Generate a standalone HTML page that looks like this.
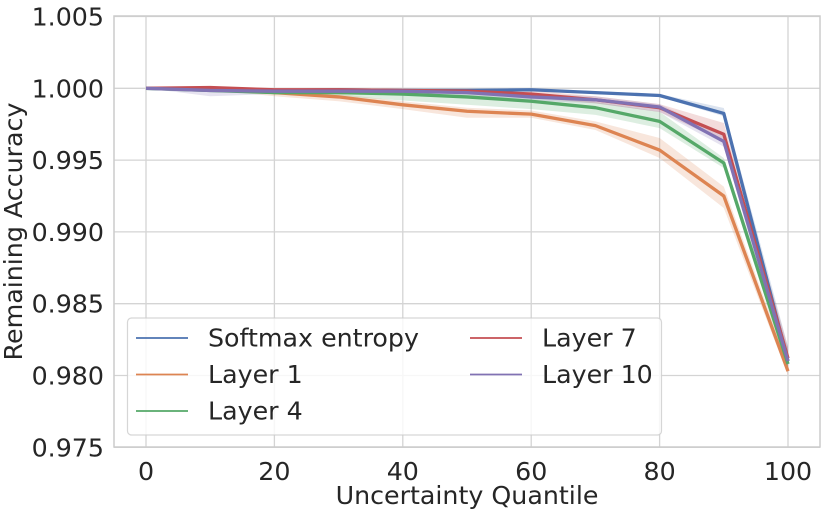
<!DOCTYPE html>
<html lang="en">
<head>
<meta charset="utf-8">
<title>Remaining Accuracy vs Uncertainty Quantile</title>
<style>
html,body{margin:0;padding:0;background:#fff;width:831px;height:509px;overflow:hidden}
svg{display:block;filter:blur(0.35px)}
text{font-family:"DejaVu Sans","Liberation Sans",sans-serif;fill:#262626}
</style>
</head>
<body>
<svg id="chart" xmlns="http://www.w3.org/2000/svg" width="831" height="509" viewBox="0 0 831 509"></svg>
<script>
const quantiles = [0, 10, 20, 30, 40, 50, 60, 70, 80, 90, 100];
const xTickValues = [0, 20, 40, 60, 80, 100];
const yTickValues = [0.975, 0.980, 0.985, 0.990, 0.995, 1.000, 1.005];

const softmaxMean = [1.0000, 0.99995, 0.99985, 0.99990, 0.99985, 0.99985, 0.99990, 0.99970, 0.99950, 0.99825, 0.9810];
const softmaxLow  = [1.0000, 0.99990, 0.99980, 0.99985, 0.99980, 0.99980, 0.99985, 0.99960, 0.99940, 0.99805, 0.9803];
const softmaxHigh = [1.0000, 1.00000, 0.99990, 0.99995, 0.99990, 0.99990, 0.99995, 0.99980, 0.99960, 0.99863, 0.9820];

const layer1Mean = [1.0000, 1.00000, 0.99970, 0.99940, 0.99885, 0.99840, 0.99820, 0.99740, 0.99570, 0.99250, 0.9803];
const layer1Low  = [1.0000, 0.99990, 0.99945, 0.99910, 0.99855, 0.99795, 0.99795, 0.99710, 0.99515, 0.99166, 0.9800];
const layer1High = [1.0000, 1.00005, 0.99985, 0.99960, 0.99910, 0.99865, 0.99845, 0.99770, 0.99654, 0.99315, 0.9808];

const layer4Mean = [1.0000, 0.99985, 0.99970, 0.99970, 0.99960, 0.99940, 0.99910, 0.99865, 0.99770, 0.99480, 0.9808];
const layer4Low  = [1.0000, 0.99975, 0.99960, 0.99945, 0.99915, 0.99885, 0.99855, 0.99815, 0.99723, 0.99445, 0.9803];
const layer4High = [1.0000, 0.99995, 0.99980, 0.99985, 0.99985, 0.99975, 0.99950, 0.99905, 0.99837, 0.99515, 0.9814];

const layer7Mean = [1.0000, 1.00005, 0.99990, 0.99990, 0.99985, 0.99980, 0.99960, 0.99920, 0.99865, 0.99680, 0.9812];
const layer7Low  = [1.0000, 0.99995, 0.99985, 0.99985, 0.99975, 0.99965, 0.99935, 0.99895, 0.99835, 0.99630, 0.9805];
const layer7High = [1.0000, 1.00010, 0.99995, 0.99995, 0.99995, 0.99990, 0.99985, 0.99945, 0.99890, 0.99758, 0.9820];

const layer10Mean = [1.0000, 0.99985, 0.99980, 0.99980, 0.99980, 0.99970, 0.99940, 0.99920, 0.99870, 0.99630, 0.9810];
const layer10Low  = [1.0000, 0.99945, 0.99960, 0.99965, 0.99965, 0.99950, 0.99915, 0.99895, 0.99835, 0.99593, 0.9802];
const layer10High = [1.0000, 1.00000, 0.99990, 0.99990, 0.99990, 0.99985, 0.99965, 0.99945, 0.99890, 0.99680, 0.9818];

const seriesNames = ["Softmax entropy", "Layer 1", "Layer 4", "Layer 7", "Layer 10"];
const seriesMeans = [softmaxMean, layer1Mean, layer4Mean, layer7Mean, layer10Mean];
const seriesLows = [softmaxLow, layer1Low, layer4Low, layer7Low, layer10Low];
const seriesHighs = [softmaxHigh, layer1High, layer4High, layer7High, layer10High];
const seriesColors = ["#4c72b0", "#dd8452", "#55a868", "#c44e52", "#8172b3"];

const svg = document.getElementById('chart');
const NS = 'http://www.w3.org/2000/svg';
const frame = {left: 114, right: 820, top: 16, bottom: 447};
const fontSize = 25.3;

function xScale(v) { return 146 + v * 6.42; }
function yScale(v) { return 88.3 + (1 - v) * 14360; }
function slug(s) { return s.toLowerCase().replace(/\s+/g, '-'); }

function add(tag, attrs, parent) {
  const el = document.createElementNS(NS, tag);
  for (const k in attrs) el.setAttribute(k, attrs[k]);
  (parent || svg).appendChild(el);
  return el;
}
function pathFrom(xs, ys) {
  return xs.map((x, i) => (i ? 'L' : 'M') + xScale(x).toFixed(2) + ' ' + yScale(ys[i]).toFixed(2)).join(' ');
}

// grid
xTickValues.forEach(v => {
  const g = add('line', {x1: xScale(v), x2: xScale(v), y1: frame.top, y2: frame.bottom, stroke: '#d4d4d4', 'stroke-width': 1.3});
  
  
});
yTickValues.forEach(v => {
  const g = add('line', {x1: frame.left, x2: frame.right, y1: yScale(v), y2: yScale(v), stroke: '#d4d4d4', 'stroke-width': 1.3});
  
  
});

// bands and lines
seriesNames.forEach((name, s) => {
  const upper = quantiles.map((x, i) => xScale(x).toFixed(2) + ',' + yScale(seriesHighs[s][i]).toFixed(2));
  const lower = quantiles.map((x, i) => xScale(x).toFixed(2) + ',' + yScale(seriesLows[s][i]).toFixed(2)).reverse();
  const band = add('polygon', {points: upper.concat(lower).join(' '), fill: seriesColors[s], 'fill-opacity': 0.2, stroke: 'none'});
  
  
});
seriesNames.forEach((name, s) => {
  const line = add('path', {d: pathFrom(quantiles, seriesMeans[s]), fill: 'none', stroke: seriesColors[s], 'stroke-width': 3.3, 'stroke-linejoin': 'round', 'stroke-linecap': 'butt'});
  
  
});

// frame
const border = add('rect', {x: frame.left, y: frame.top, width: frame.right - frame.left, height: frame.bottom - frame.top, fill: 'none', stroke: '#cccccc', 'stroke-width': 1.5});



// tick labels
xTickValues.forEach(v => {
  const t = add('text', {x: xScale(v), y: 480, 'text-anchor': 'middle', 'font-size': fontSize});
  t.textContent = String(v);
  
  
});
yTickValues.forEach(v => {
  const t = add('text', {x: 104, y: yScale(v) + 9, 'text-anchor': 'end', 'font-size': fontSize});
  t.textContent = v.toFixed(3);
  
  
});

// axis titles
const xTitle = add('text', {x: 467, y: 504, 'text-anchor': 'middle', 'font-size': fontSize});
xTitle.textContent = 'Uncertainty Quantile';



const yTitle = add('text', {x: 0, y: 0, 'text-anchor': 'middle', 'font-size': fontSize, transform: 'translate(22 231.5) rotate(-90)'});
yTitle.textContent = 'Remaining Accuracy';



// legend
const legend = add('g', {});


const legendBox = add('rect', {x: 127.5, y: 318, width: 534, height: 117, rx: 4, fill: '#ffffff', 'fill-opacity': 0.8, stroke: '#cccccc', 'stroke-opacity': 0.8, 'stroke-width': 1.2}, legend);


seriesNames.forEach((name, s) => {
  const col = s < 3 ? 0 : 1;
  const row = s < 3 ? s : s - 3;
  const x0 = col ? 470 : 136;
  const cy = 338 + row * 36.5;
  const key = add('line', {x1: x0, x2: x0 + 52, y1: cy, y2: cy, stroke: seriesColors[s], 'stroke-width': 1.7}, legend);
  
  
  const label = add('text', {x: x0 + 72, y: cy + 8.5, 'font-size': fontSize}, legend);
  label.textContent = name;
  
  
});
</script>
</body>
</html>
